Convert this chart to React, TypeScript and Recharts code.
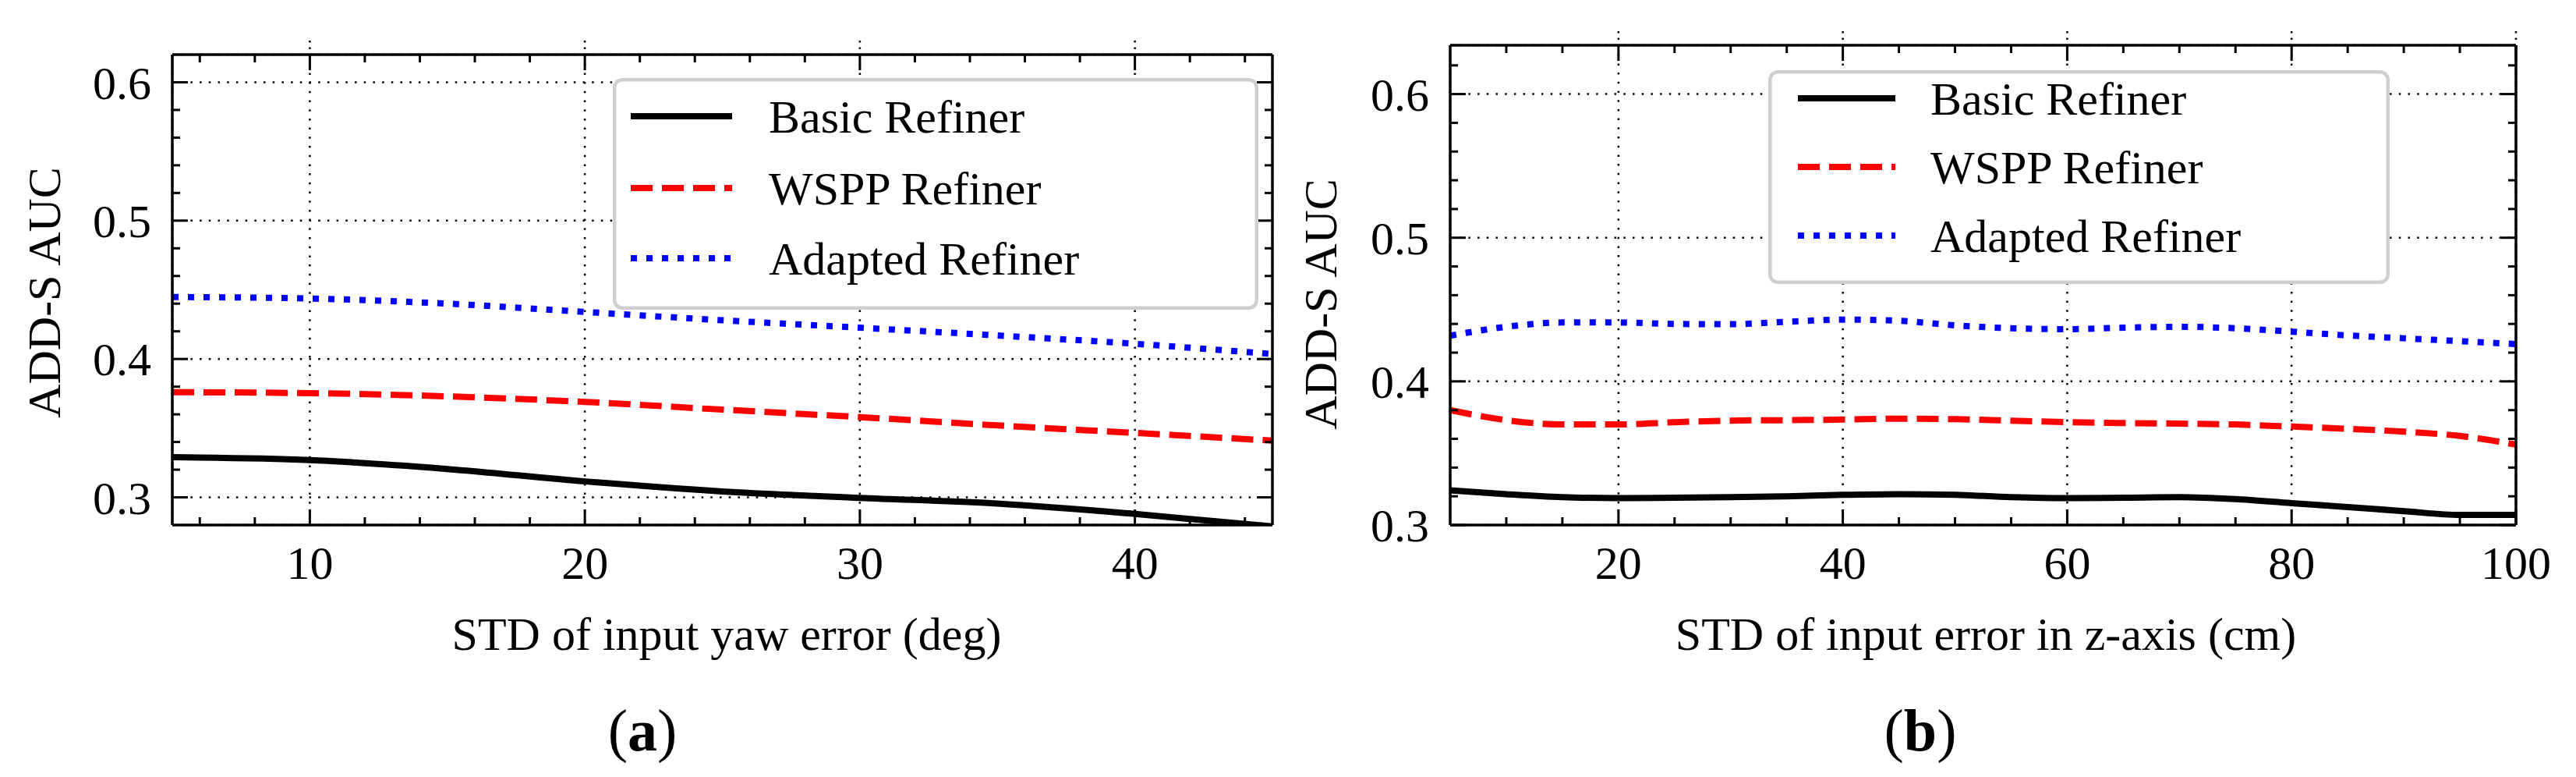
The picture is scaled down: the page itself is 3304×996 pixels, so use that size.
import React from "react";
import { LineChart, Line, XAxis, YAxis, CartesianGrid, Legend } from "recharts";

// (a) yaw error sweep
const yawX = [5, 10, 15, 20, 25, 30, 35, 40, 45];
const yawBasic = [0.329, 0.327, 0.3205, 0.3115, 0.3043, 0.2996, 0.2955, 0.288, 0.279];
const yawWspp = [0.376, 0.3753, 0.373, 0.369, 0.3634, 0.358, 0.352, 0.3466, 0.341];
const yawAdapted = [0.4448, 0.4437, 0.44, 0.434, 0.428, 0.4226, 0.417, 0.411, 0.4036];

// (b) z-axis error sweep
const zX = [5, 10, 15, 20, 25, 30, 35, 40, 45, 50, 55, 60, 65, 70, 75, 80, 85, 90, 95, 100];
const zBasic = [
  0.3242, 0.3215, 0.3194, 0.3187, 0.319, 0.3194, 0.32, 0.321, 0.3215, 0.321,
  0.3194, 0.3187, 0.319, 0.3194, 0.318, 0.3152, 0.3125, 0.3097, 0.307, 0.307,
];
const zWspp = [
  0.38, 0.373, 0.37, 0.37, 0.3716, 0.3727, 0.373, 0.3734, 0.374, 0.3737,
  0.3727, 0.3716, 0.371, 0.3706, 0.37, 0.3685, 0.367, 0.365, 0.362, 0.356,
];
const zAdapted = [
  0.4318, 0.438, 0.441, 0.441, 0.44, 0.4398, 0.4415, 0.443, 0.4422, 0.439,
  0.437, 0.4363, 0.4374, 0.438, 0.437, 0.4346, 0.432, 0.43, 0.428, 0.426,
];

// ticks
const yMajor = [0.3, 0.4, 0.5, 0.6];
const yawXMajor = [10, 20, 30, 40];
const yawXMinor = [6, 8, 12, 14, 16, 18, 22, 24, 26, 28, 32, 34, 36, 38, 42, 44];
const yawYMinor = [0.32, 0.34, 0.36, 0.38, 0.42, 0.44, 0.46, 0.48, 0.52, 0.54, 0.56, 0.58];
const zXMajor = [20, 40, 60, 80, 100];
const zXMinor = [10, 15, 25, 30, 35, 45, 50, 55, 65, 70, 75, 85, 90, 95];
const zYMinor = [0.32, 0.34, 0.36, 0.38, 0.42, 0.44, 0.46, 0.48, 0.52, 0.54, 0.56, 0.58, 0.62];

const SERIES = [
  { key: "basic", name: "Basic Refiner", color: "#000000", dash: undefined },
  { key: "wspp", name: "WSPP Refiner", color: "#ff0000", dash: "28 12" },
  { key: "adapted", name: "Adapted Refiner", color: "#0000ff", dash: "8 12" },
];

const FONT = "'Liberation Serif', 'Times New Roman', Times, serif";
const tickFont = { fontFamily: FONT, fontSize: 60, fill: "#000" };
const axisLine = { stroke: "#000", strokeWidth: 3.5 };
const tickLine = { stroke: "#000", strokeWidth: 3 };
const NoTick = () => <g />;

function LegendBox({ g }: { g: any }) {
  return (
    <svg width={g.width} height={g.height} style={{ display: "block" }}>
      <rect
        x={2.25}
        y={2.25}
        width={g.width - 4.5}
        height={g.height - 4.5}
        rx={10}
        fill="#fff"
        stroke="#cfcfcf"
        strokeWidth={4.5}
      />
      {SERIES.map((s, i) => (
        <g key={s.key}>
          <line
            x1={g.lineX0}
            x2={g.lineX1}
            y1={g.rows[i]}
            y2={g.rows[i]}
            stroke={s.color}
            strokeWidth={8}
            strokeDasharray={s.dash}
          />
          <text x={g.textX} y={g.rows[i] + 21} fontFamily={FONT} fontSize={60} fill="#000">
            {s.name}
          </text>
        </g>
      ))}
    </svg>
  );
}

function Panel(p: any) {
  const data = p.x.map((x: number, i: number) => ({
    x,
    basic: p.basic[i],
    wspp: p.wspp[i],
    adapted: p.adapted[i],
  }));
  const common = { type: "number" as const, allowDataOverflow: true, interval: 0 as const };
  // axes are 1px thick boxes (0 would not render), so margins are trimmed to keep the plot box in place
  const m = p.plot;
  const margin = { top: m.top - 3, right: m.right - 2, bottom: m.bottom - 2, left: m.left - 2 };
  return (
    <div style={{ position: "absolute", left: p.left, top: 0, width: p.width, height: 996 }}>
      <LineChart width={p.width} height={996} data={data} margin={margin}>
        <CartesianGrid stroke="#000" strokeWidth={2.5} strokeDasharray="2.5 9.2" />
        <XAxis {...common} dataKey="x" domain={p.xDomain} ticks={p.xMajor} height={1}
          axisLine={axisLine} tickLine={tickLine} tickSize={-20} tickMargin={46} tick={tickFont} />
        <XAxis {...common} xAxisId="bmin" dataKey="x" domain={p.xDomain} ticks={p.xMinor} height={1}
          axisLine={false} tickLine={tickLine} tickSize={-11} tick={NoTick} />
        <XAxis {...common} xAxisId="tmaj" orientation="top" dataKey="x" domain={p.xDomain} ticks={p.xMajor} height={1}
          axisLine={axisLine} tickLine={tickLine} tickSize={-20} tick={NoTick} />
        <XAxis {...common} xAxisId="tmin" orientation="top" dataKey="x" domain={p.xDomain} ticks={p.xMinor} height={1}
          axisLine={false} tickLine={tickLine} tickSize={-11} tick={NoTick} />
        <XAxis {...common} xAxisId="tout" orientation="top" dataKey="x" domain={p.xDomain} ticks={p.xMajor} height={1}
          axisLine={false} tickLine={{ stroke: "#000", strokeWidth: 2.5, strokeDasharray: "2.5 6" }}
          tickSize={16} tick={NoTick} />
        <YAxis {...common} domain={p.yDomain} ticks={yMajor} width={1}
          axisLine={axisLine} tickLine={tickLine} tickSize={-20} tickMargin={47} tick={tickFont}
          tickFormatter={(v: number) => v.toFixed(1)} />
        <YAxis {...common} yAxisId="lmin" domain={p.yDomain} ticks={p.yMinor} width={1}
          axisLine={false} tickLine={tickLine} tickSize={-11} tick={NoTick} />
        <YAxis {...common} yAxisId="rmaj" orientation="right" domain={p.yDomain} ticks={yMajor} width={1}
          axisLine={axisLine} tickLine={tickLine} tickSize={-20} tick={NoTick} />
        <YAxis {...common} yAxisId="rmin" orientation="right" domain={p.yDomain} ticks={p.yMinor} width={1}
          axisLine={false} tickLine={tickLine} tickSize={-11} tick={NoTick} />
        <Legend
          layout="vertical"
          align="center"
          verticalAlign="middle"
          wrapperStyle={{ left: p.legend.left, top: p.legend.top, width: p.legend.width, height: p.legend.height }}
          content={() => <LegendBox g={p.legend} />}
        />
        {SERIES.map((s) => (
          <Line
            key={s.key}
            type="monotone"
            dataKey={s.key}
            name={s.name}
            stroke={s.color}
            strokeWidth={8}
            strokeDasharray={s.dash}
            dot={false}
            activeDot={false}
            isAnimationActive={false}
          />
        ))}
      </LineChart>
      <svg
        width={p.width}
        height={996}
        style={{ position: "absolute", left: 0, top: 0, pointerEvents: "none" }}
      >
        <text
          x={p.yTitle.x}
          y={p.yTitle.y}
          transform={`rotate(-90 ${p.yTitle.x} ${p.yTitle.y})`}
          textAnchor="middle"
          fontFamily={FONT}
          fontSize={60}
          fill="#000"
        >
          ADD-S AUC
        </text>
        <text x={p.xTitle.x} y={833} textAnchor="middle" fontFamily={FONT} fontSize={60} fill="#000">
          {p.xTitle.text}
        </text>
        <text x={p.tag.x} y={962} textAnchor="middle" fontFamily={FONT} fontSize={76} fill="#000">
          (<tspan fontWeight="bold">{p.tag.letter}</tspan>)
        </text>
      </svg>
    </div>
  );
}

export default function App() {
  return (
    <div style={{ position: "absolute", left: 0, top: 0, width: 3304, height: 996, background: "#fff" }}>
      <Panel
        left={0}
        width={1650}
        plot={{ top: 70, right: 18, bottom: 323, left: 221 }}
        x={yawX}
        basic={yawBasic}
        wspp={yawWspp}
        adapted={yawAdapted}
        xDomain={[5, 45]}
        yDomain={[0.28, 0.62]}
        xMajor={yawXMajor}
        xMinor={yawXMinor}
        yMinor={yawYMinor}
        legend={{ left: 786, top: 100, width: 828, height: 297, rows: [49, 141, 231], lineX0: 23, lineX1: 153, textX: 200 }}
        yTitle={{ x: 77, y: 375 }}
        xTitle={{ x: 932, text: "STD of input yaw error (deg)" }}
        tag={{ x: 824, letter: "a" }}
      />
      <Panel
        left={1650}
        width={1654}
        plot={{ top: 58, right: 77, bottom: 323, left: 210 }}
        x={zX}
        basic={zBasic}
        wspp={zWspp}
        adapted={zAdapted}
        xDomain={[5, 100]}
        yDomain={[0.3, 0.634]}
        xMajor={zXMajor}
        xMinor={zXMinor}
        yMinor={zYMinor}
        legend={{ left: 618, top: 90, width: 797, height: 274, rows: [36, 124, 212], lineX0: 38, lineX1: 163, textX: 208 }}
        yTitle={{ x: 64, y: 390 }}
        xTitle={{ x: 897, text: "STD of input error in z-axis (cm)" }}
        tag={{ x: 813, letter: "b" }}
      />
    </div>
  );
}
